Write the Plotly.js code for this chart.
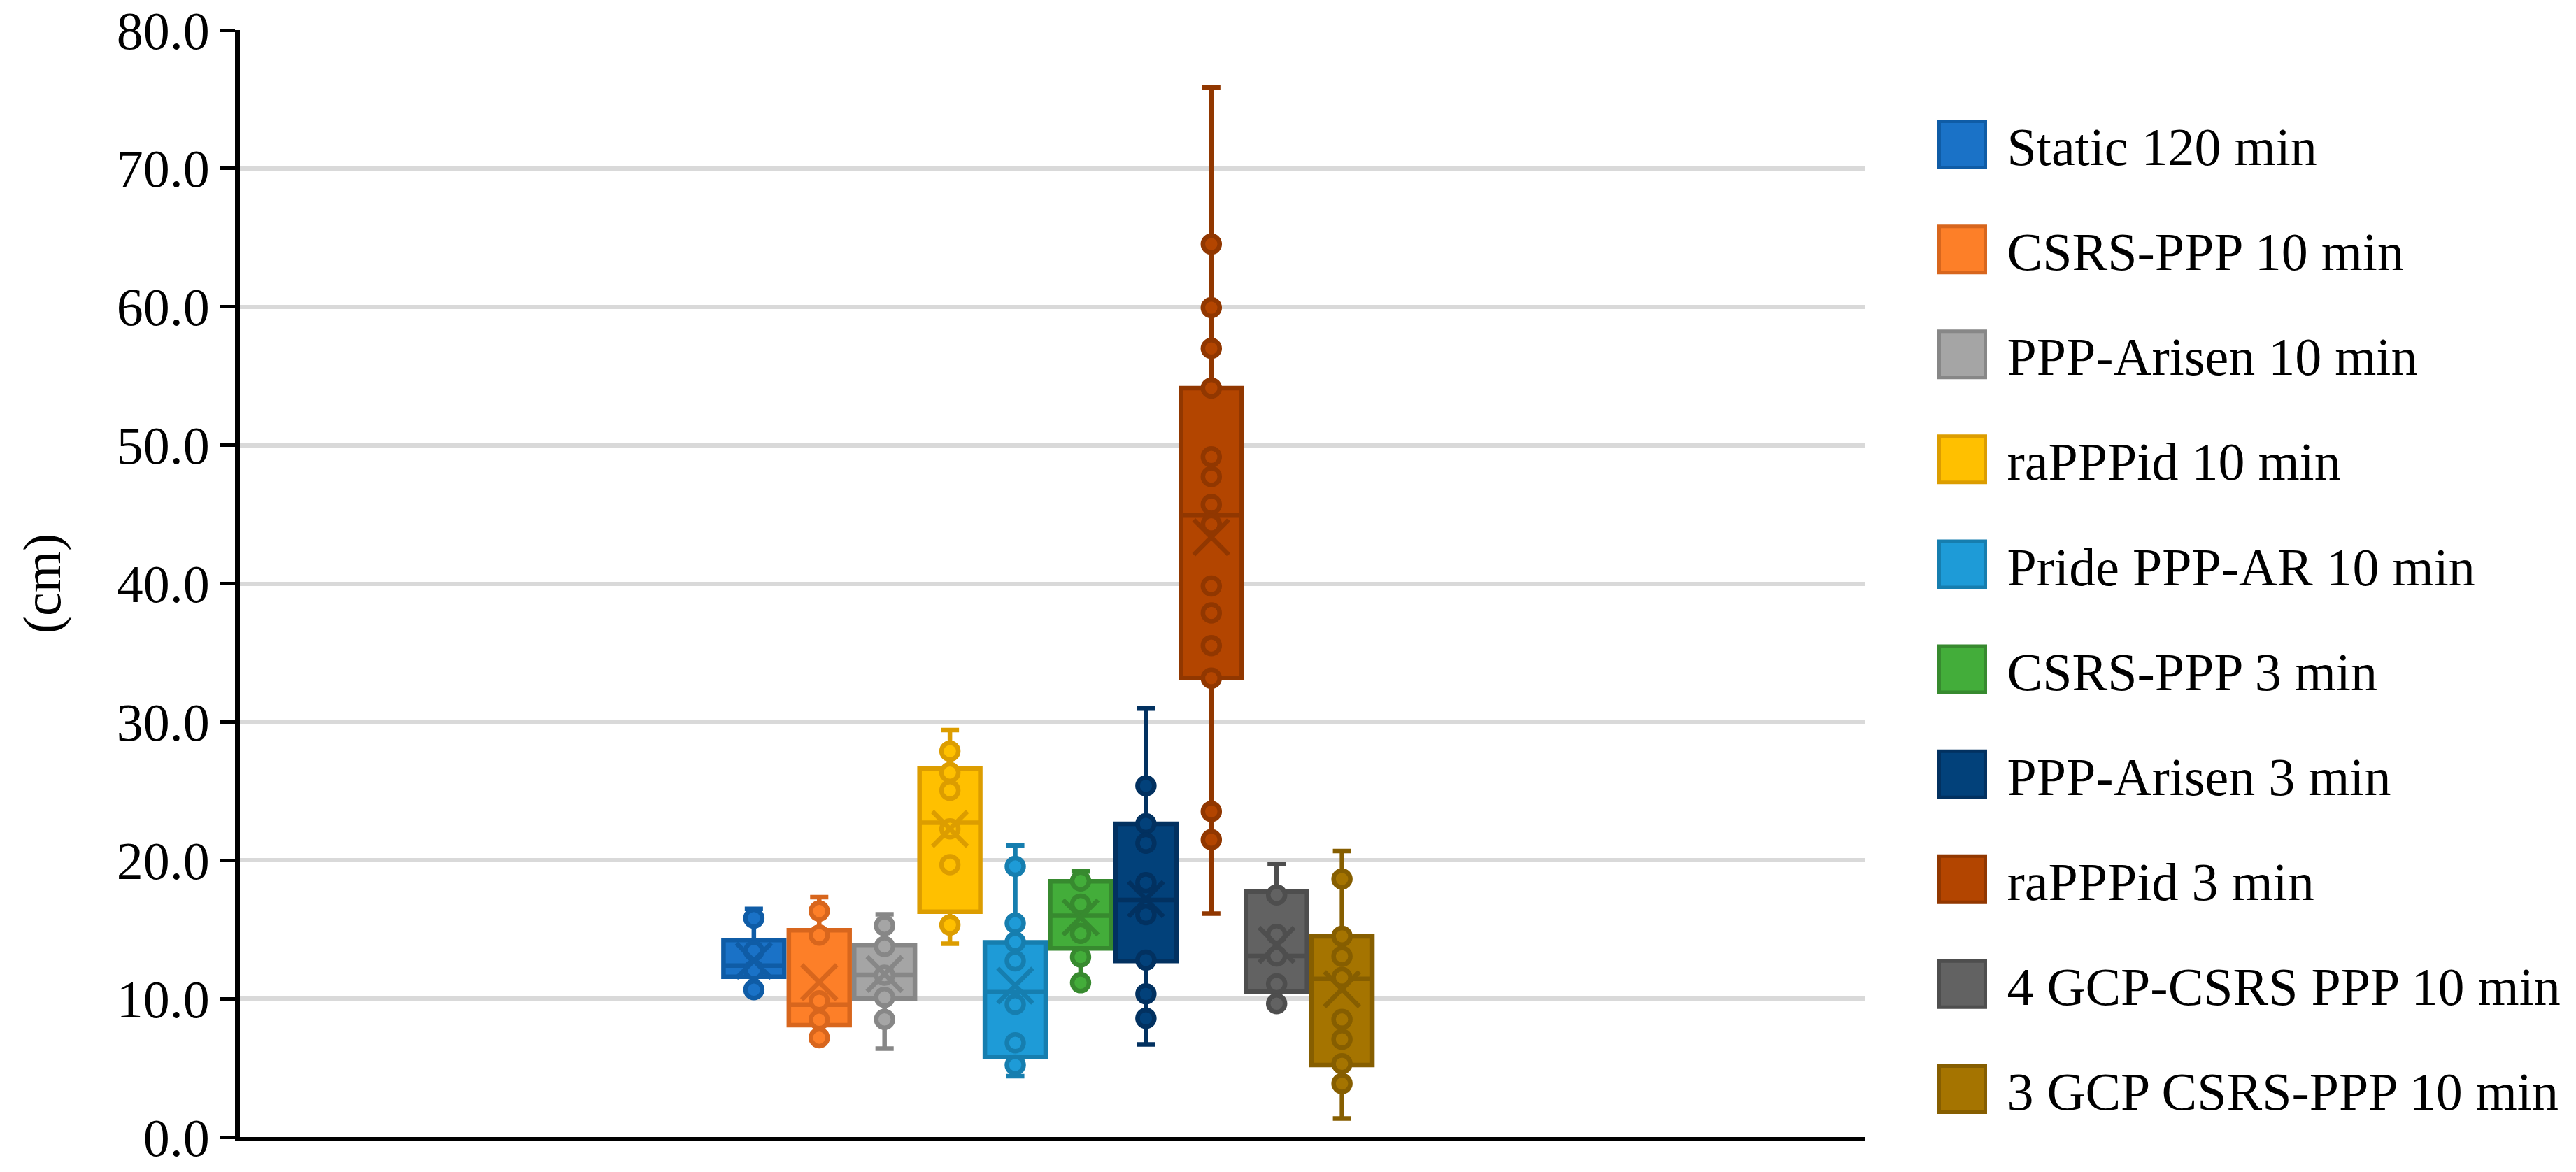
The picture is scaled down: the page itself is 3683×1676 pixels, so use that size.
<!DOCTYPE html>
<html>
<head>
<meta charset="utf-8">
<script src="https://cdn.plot.ly/plotly-3.0.1.min.js"></script>
<style>
  html, body { margin: 0; padding: 0; background: #ffffff; }
  #chart { width: 3683px; height: 1676px; }
</style>
</head>
<body>
<div id="chart"></div>
<script>
// ---- Data (values in cm) ----
const seriesNames = [
  'Static 120 min', 'CSRS-PPP 10 min', 'PPP-Arisen 10 min', 'raPPPid 10 min',
  'Pride PPP-AR 10 min', 'CSRS-PPP 3 min', 'PPP-Arisen 3 min', 'raPPPid 3 min',
  '4 GCP-CSRS PPP 10 min', '3 GCP CSRS-PPP 10 min'
];
const lowerWhisker = [10.65, 7.18, 6.39, 13.97, 4.40, 11.15, 6.69, 16.15, 9.64, 1.34];
const q1Values     = [11.58, 8.09, 10.01, 16.29, 5.78, 13.63, 12.72, 33.16, 10.52, 5.21];
const medianValues = [12.40, 9.56, 11.73, 22.72, 10.48, 15.99, 17.13, 44.92, 13.09, 11.44];
const q3Values     = [14.24, 14.94, 13.88, 26.63, 14.07, 18.48, 22.64, 54.13, 17.72, 14.51];
const upperWhisker = [16.49, 17.34, 16.10, 29.41, 21.07, 19.19, 30.97, 75.85, 19.73, 20.67];
const meanValues   = [12.75, 11.19, 11.78, 22.27, 10.94, 15.87, 17.19, 43.35, 13.88, 10.68];

const ptsStatic120   = [15.82, 13.46, 12.08, 10.65];
const ptsCsrs10      = [16.33, 14.59, 9.84, 8.48, 7.18];
const ptsArisen10    = [15.28, 13.77, 11.70, 10.09, 8.50];
const ptsRapppid10   = [27.89, 26.34, 25.05, 22.27, 19.69, 15.32];
const ptsPride10     = [19.56, 15.45, 14.10, 12.74, 9.59, 6.81, 5.21];
const ptsCsrs3       = [18.51, 16.83, 14.72, 13.01, 11.15];
const ptsArisen3     = [25.38, 22.64, 21.24, 18.38, 16.07, 12.79, 10.35, 8.58];
const ptsRapppid3    = [64.53, 59.94, 56.99, 54.13, 49.16, 47.73, 45.71, 44.28, 39.82, 37.88, 35.52, 33.16, 23.53, 21.49];
const pts4Gcp10      = [17.50, 14.64, 13.09, 11.07, 9.64];
const pts3Gcp10      = [18.65, 14.51, 13.07, 11.53, 8.50, 7.06, 5.30, 3.86];
const pointSets = [ptsStatic120, ptsCsrs10, ptsArisen10, ptsRapppid10, ptsPride10,
                   ptsCsrs3, ptsArisen3, ptsRapppid3, pts4Gcp10, pts3Gcp10];

const yTickValues = [0, 10, 20, 30, 40, 50, 60, 70, 80];

// ---- Styles ----
const fillColors = ['#1A72C7', '#FD7F28', '#A5A5A5', '#FFC000', '#1E9BD7',
                    '#43AD3A', '#02417A', '#B34500', '#626262', '#A57400'];
const lineColors = ['#0F5CA6', '#D8661D', '#878787', '#DC9D00', '#167EAF',
                    '#378A2F', '#023160', '#913700', '#4E4E4E', '#865E00'];
const FONT = 'Liberation Serif, Times New Roman, serif';
const FS = 76;

const traces = [];
seriesNames.forEach((name, i) => {
  traces.push({
    type: 'box',
    name: name,
    legendgroup: 'g' + i,
    x: [i],
    q1: [q1Values[i]],
    median: [medianValues[i]],
    q3: [q3Values[i]],
    lowerfence: [lowerWhisker[i]],
    upperfence: [upperWhisker[i]],
    width: 0.93,
    whiskerwidth: 0.3,
    fillcolor: fillColors[i],
    line: { color: lineColors[i], width: 6.5 },
    boxpoints: false,
    hoverinfo: 'skip'
  });
});
seriesNames.forEach((name, i) => {
  traces.push({
    type: 'scatter',
    mode: 'markers',
    x: pointSets[i].map(() => i),
    y: pointSets[i],
    showlegend: false,
    legendgroup: 'g' + i,
    marker: { symbol: 'circle', size: 24, color: fillColors[i],
              line: { color: lineColors[i], width: 6.5 } },
    hoverinfo: 'skip'
  });
  traces.push({
    type: 'scatter',
    mode: 'markers',
    x: [i],
    y: [meanValues[i]],
    showlegend: false,
    legendgroup: 'g' + i,
    marker: { symbol: 'x-thin-open', size: 50, color: lineColors[i],
              line: { color: lineColors[i], width: 6.5 } },
    hoverinfo: 'skip'
  });
});

const layout = {
  width: 3683,
  height: 1676,
  margin: { l: 343, r: 1017, t: 43, b: 50, pad: 0 },
  paper_bgcolor: '#ffffff',
  plot_bgcolor: '#ffffff',
  font: { family: FONT, size: FS, color: '#000000' },
  showlegend: true,
  legend: {
    x: 1.0325, xanchor: 'left',
    y: 0.932, yanchor: 'top',
    traceorder: 'grouped',
    tracegroupgap: 48.3,
    itemwidth: 118,
    font: { family: FONT, size: FS, color: '#000000' },
    bgcolor: 'rgba(0,0,0,0)'
  },
  xaxis: {
    range: [-7.866, 17.0],
    showticklabels: false,
    ticks: '',
    showgrid: false,
    zeroline: false,
    showline: true,
    linecolor: '#000000',
    linewidth: 5
  },
  yaxis: {
    range: [0, 80],
    tickvals: yTickValues,
    tickformat: '.1f',
    ticks: 'outside',
    ticklen: 21,
    tickwidth: 5,
    tickcolor: '#000000',
    tickfont: { family: FONT, size: FS, color: '#000000' },
    showgrid: true,
    gridcolor: '#D9D9D9',
    gridwidth: 6,
    zeroline: false,
    showline: true,
    linecolor: '#000000',
    linewidth: 7,
    title: { text: '(cm)', font: { family: FONT, size: FS, color: '#000000' }, standoff: 58 }
  }
};

Plotly.newPlot('chart', traces, layout, { staticPlot: true }).then(gd => {
  // enlarge the legend swatches to match the reference's square keys
  gd.querySelectorAll('.legend path.legendbox').forEach(p => {
    p.setAttribute('d', 'M33,33H-33V-33H33Z');
    p.style.strokeWidth = '5px';
  });
});
</script>
</body>
</html>
